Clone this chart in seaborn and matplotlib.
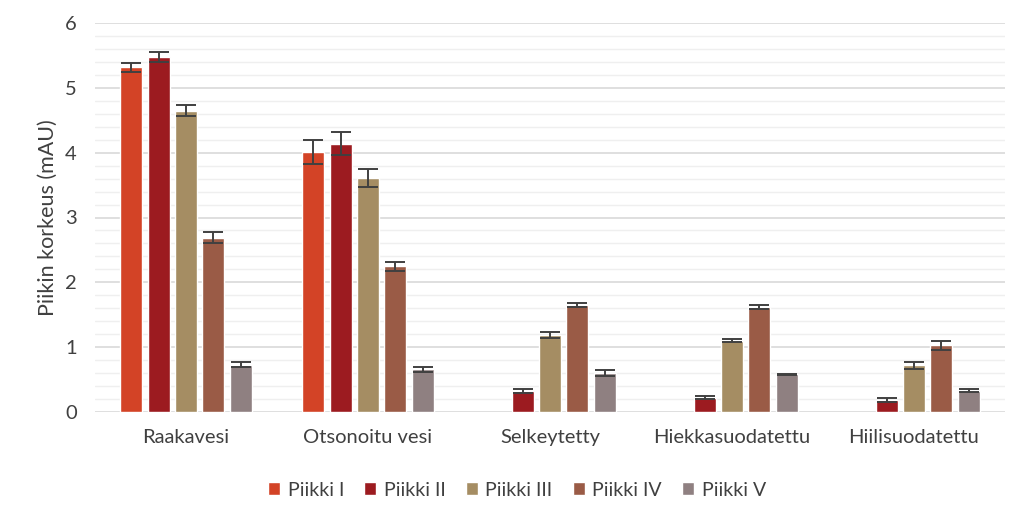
import numpy as np
import pandas as pd
import matplotlib
matplotlib.use("Agg")
import matplotlib.pyplot as plt
from matplotlib.ticker import MultipleLocator
import seaborn as sns

categories = ["Raakavesi", "Otsonoitu vesi", "Selkeytetty", "Hiekkasuodatettu", "Hiilisuodatettu"]
series = ["Piikki I", "Piikki II", "Piikki III", "Piikki IV", "Piikki V"]
piikki_1 = [5.32, 4.01, np.nan, np.nan, np.nan]
piikki_2 = [5.48, 4.14, 0.33, 0.22, 0.18]
piikki_3 = [4.65, 3.61, 1.19, 1.10, 0.72]
piikki_4 = [2.69, 2.25, 1.65, 1.62, 1.03]
piikki_5 = [0.73, 0.66, 0.60, 0.58, 0.33]
err_1 = [0.07, 0.18, np.nan, np.nan, np.nan]
err_2 = [0.08, 0.18, 0.03, 0.02, 0.03]
err_3 = [0.08, 0.14, 0.05, 0.02, 0.05]
err_4 = [0.08, 0.07, 0.03, 0.03, 0.07]
err_5 = [0.04, 0.04, 0.05, 0.01, 0.02]
colors = ["#D34326", "#9C1B20", "#A58D63", "#9A5B46", "#8F8081"]

values = [piikki_1, piikki_2, piikki_3, piikki_4, piikki_5]
errors = [err_1, err_2, err_3, err_4, err_5]

rows = []
for s, vals in zip(series, values):
    for c, v in zip(categories, vals):
        rows.append({"cat": c, "series": s, "val": v})
df = pd.DataFrame(rows)

sns.set_theme(style="white")
plt.rcParams["font.family"] = ["Lato", "DejaVu Sans"]

fig = plt.figure(figsize=(10.24, 5.21), dpi=100)
ax = fig.add_axes([95/1024, 1 - 412/521, 910/1024, 389/521])

width = 0.75
sns.barplot(data=df, x="cat", y="val", hue="series", order=categories, hue_order=series,
            palette=colors, width=width, gap=0.2, errorbar=None, saturation=1,
            ax=ax, legend=True)

n = len(series)
slot = width / n
for j in range(n):
    xs = np.arange(len(categories)) - width / 2 + slot * (j + 0.5)
    ax.errorbar(xs, values[j], yerr=errors[j], fmt="none", ecolor="#404040",
                elinewidth=1.4, capsize=7, capthick=1.4, zorder=5)

ax.set_ylim(0, 6)
ax.set_xlim(-0.5, len(categories) - 0.5)
ax.yaxis.set_major_locator(MultipleLocator(1))
ax.yaxis.set_minor_locator(MultipleLocator(0.2))
ax.grid(axis="y", which="major", color="#D9D9D9", linewidth=1.2)
ax.grid(axis="y", which="minor", color="#EFEFEF", linewidth=1.0)
ax.set_axisbelow(True)
for sp in ax.spines.values():
    sp.set_visible(False)
ax.tick_params(axis="both", length=0, labelsize=14.5, colors="#404040", pad=12)
ax.tick_params(axis="y", pad=13)
ax.set_xlabel("")
ax.set_ylabel("Piikin korkeus (mAU)", fontsize=15.5, color="#404040", labelpad=5)

handles, labels = ax.get_legend_handles_labels()
ax.get_legend().remove()
fig.legend(handles, labels, loc="center", bbox_to_anchor=(0.505, 1 - 490/521), ncol=5,
           frameon=False, fontsize=14, handlelength=0.6, handleheight=0.6,
           handletextpad=0.4, columnspacing=1.05, labelcolor="#404040")

fig.savefig("out.png", dpi=100)
